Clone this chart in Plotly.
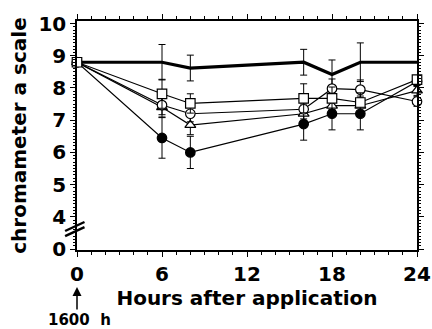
import plotly.graph_objects as go

hours = [0, 6, 8, 16, 18, 20, 24]

control = [8.8, 8.8, 8.62, 8.8, 8.42, 8.8, 8.8]
control_err = [0.05, 0.55, 0.4, 0.4, 0.45, 0.6, 0.0]

open_square = [8.8, 7.82, 7.52, 7.68, 7.68, 7.55, 8.26]
open_square_err = [0.1, 0.45, 0.3, 0.45, 0.35, 0.3, 0.1]

open_circle = [8.8, 7.47, 7.2, 7.34, 7.98, 7.95, 7.58]
open_circle_err = [0.1, 0.3, 0.25, 0.3, 0.3, 0.3, 0.15]

open_triangle = [8.8, 7.4, 6.85, 7.2, 7.45, 7.45, 7.92]
open_triangle_err = [0.1, 0.3, 0.3, 0.3, 0.3, 0.3, 0.15]

filled_circle = [8.8, 6.45, 6.0, 6.88, 7.2, 7.2, 8.2]
filled_circle_err = [0.1, 0.63, 0.5, 0.5, 0.5, 0.5, 0.15]

y_tickvals = [3, 4, 5, 6, 7, 8, 9, 10]
y_ticktext = ["0", "4", "5", "6", "7", "8", "9", "10"]
x_tickvals = [0, 6, 12, 18, 24]

FONT = "DejaVu Sans, Liberation Sans, Arial, sans-serif"

fig = go.Figure()

def err(vals):
    return dict(type="data", array=vals, color="black", thickness=1, width=3.5, visible=True)

fig.add_trace(go.Scatter(x=hours, y=control, mode="lines",
                         line=dict(color="black", width=3.2),
                         error_y=err(control_err), cliponaxis=False, showlegend=False))

series = [
    (filled_circle, filled_circle_err, "circle", "black"),
    (open_triangle, open_triangle_err, "triangle-up", "white"),
    (open_circle, open_circle_err, "circle", "white"),
    (open_square, open_square_err, "square", "white"),
]
for vals, e, sym, fill in series:
    fig.add_trace(go.Scatter(
        x=hours, y=vals, mode="lines+markers",
        line=dict(color="black", width=1.2),
        marker=dict(symbol=sym, size=9.5, color=fill, line=dict(color="black", width=1.2)),
        error_y=err(e), cliponaxis=False, showlegend=False))

axis_common = dict(showline=True, linecolor="black", linewidth=1.5, mirror="allticks",
                   ticks="outside", tickcolor="black", showgrid=False, zeroline=False,
                   tickfont=dict(family=FONT, size=20, color="black", weight="bold"))

fig.update_layout(
    width=432, height=329,
    margin=dict(l=77, r=15, t=21, b=79),
    paper_bgcolor="white", plot_bgcolor="white",
    xaxis=dict(range=[0, 24], tickvals=x_tickvals, ticklen=5, tickwidth=1.2,
               minor=dict(dtick=1, ticklen=3, tickcolor="black", ticks="outside"),
               title=dict(text="Hours after application", standoff=0,
                          font=dict(family=FONT, size=20, color="black", weight="bold")),
               automargin=False, **axis_common),
    yaxis=dict(range=[2.97, 10.08], tickvals=y_tickvals, ticktext=y_ticktext,
               ticklen=5, tickwidth=1.2,
               minor=dict(dtick=0.1, ticklen=2.5, tickcolor="black", ticks="outside"),
               title=dict(text="chromameter a scale", standoff=6,
                          font=dict(family=FONT, size=20, color="black", weight="bold")),
               automargin=False, **axis_common),
)

# axis break marks
for yy in [3.52, 3.68]:
    fig.add_shape(type="line", xref="paper", yref="y",
                  x0=-0.035, y0=yy - 0.12, x1=0.022, y1=yy + 0.16,
                  line=dict(color="black", width=2.4))

# arrow and start time
fig.add_annotation(x=0, xref="x", y=-0.162, yref="paper", text="", showarrow=True,
                   arrowhead=2, arrowsize=1.2, arrowwidth=1.5, arrowcolor="black",
                   ax=0, ay=24)
fig.add_annotation(x=-0.09, xref="paper", y=-0.305, yref="paper",
                   text="1600  h", showarrow=False, xanchor="left", yanchor="middle",
                   font=dict(family=FONT, size=15, color="black", weight="bold"))

fig.write_html("out.html")
